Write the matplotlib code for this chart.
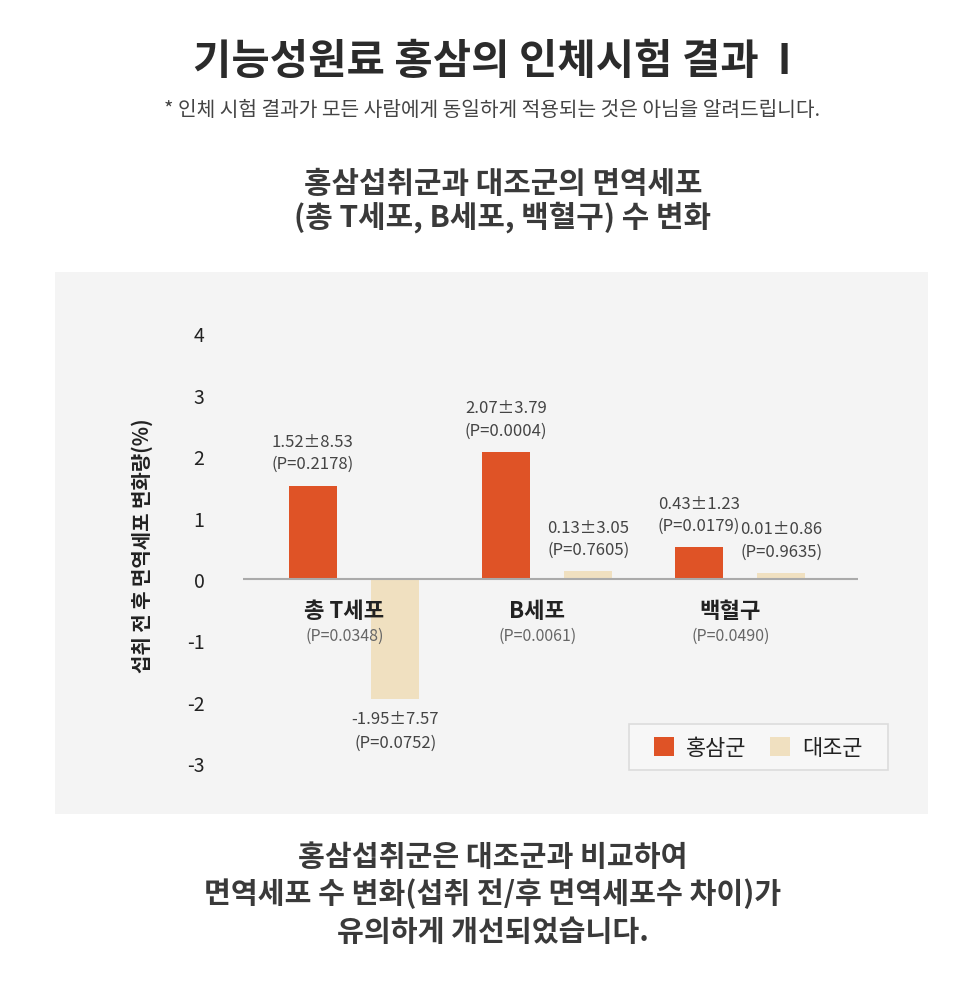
import matplotlib
matplotlib.use('Agg')
import matplotlib.pyplot as plt
from matplotlib.patches import Rectangle

plt.rcParams['font.family'] = ['Noto Sans CJK KR', 'DejaVu Sans']

# data
categories = ['총 T세포', 'B세포', '백혈구']
group_p = ['(P=0.0348)', '(P=0.0061)', '(P=0.0490)']
ginseng_bar = [1.52, 2.07, 0.52]
placebo_bar = [-1.95, 0.13, 0.10]
ginseng_txt = ['1.52±8.53', '2.07±3.79', '0.43±1.23']
ginseng_p = ['(P=0.2178)', '(P=0.0004)', '(P=0.0179)']
placebo_txt = ['-1.95±7.57', '0.13±3.05', '0.01±0.86']
placebo_p = ['(P=0.0752)', '(P=0.7605)', '(P=0.9635)']
yticks = [-3, -2, -1, 0, 1, 2, 3, 4]
legend_labels = ['홍삼군', '대조군']

c_ginseng = '#df5326'
c_placebo = '#f0e0c0'

W, H = 975, 995
def fx(px): return px / W
def fy(py): return 1 - py / H

fig = plt.figure(figsize=(W / 100, H / 100), dpi=100)
fig.patch.set_facecolor('white')

# grey panel behind the chart
fig.patches.append(Rectangle((fx(55), fy(815)), fx(928) - fx(55), fy(273) - fy(815),
                             transform=fig.transFigure, facecolor='#f4f4f4',
                             edgecolor='none', zorder=-2))

# texts above and below
fig.text(fx(492), fy(62), '기능성원료 홍삼의 인체시험 결과  I', ha='center', va='center',
         fontsize=30, fontweight='bold', color='#2b2b2b')
fig.text(fx(492), fy(110), '* 인체 시험 결과가 모든 사람에게 동일하게 적용되는 것은 아님을 알려드립니다.',
         ha='center', va='center', fontsize=14.6, color='#444444')
fig.text(fx(503), fy(184), '홍삼섭취군과 대조군의 면역세포', ha='center', va='center',
         fontsize=21.5, fontweight='bold', color='#3a3a3a')
fig.text(fx(503), fy(217), '(총 T세포, B세포, 백혈구) 수 변화', ha='center', va='center',
         fontsize=21.5, fontweight='bold', color='#3a3a3a')
bottom_lines = ['홍삼섭취군은 대조군과 비교하여',
                '면역세포 수 변화(섭취 전/후 면역세포수 차이)가',
                '유의하게 개선되었습니다.']
for line, py in zip(bottom_lines, [857, 894, 932]):
    fig.text(fx(493), fy(py), line, ha='center', va='center',
             fontsize=21, fontweight='bold', color='#3a3a3a')

# y axis title
fig.text(fx(142), fy(546), '섭취 전 후 면역세포 변화량(%)', rotation=90, ha='center', va='center',
         fontsize=14.4, fontweight='bold', color='#222222')

# axes laid out in pixels: 0 at y=580, 61.4 px per unit
ppu = 61.4
ax = fig.add_axes([fx(210), fy(802), fx(900) - fx(210), fy(302) - fy(802)])
ax.set_facecolor('none')
ax.set_ylim(-(802 - 580) / ppu, (580 - 302) / ppu)
gap = 193.0
c0 = 354.0
ax.set_xlim((210 - c0) / gap, (900 - c0) / gap)
for s in ax.spines.values():
    s.set_visible(False)
ax.set_xticks([])
ax.set_yticks(yticks)
ax.set_yticklabels([str(t) for t in yticks])
ax.tick_params(axis='y', length=0, pad=4, labelsize=14, labelcolor='#222222')

xs = list(range(len(categories)))
off = 41.3 / gap
bw = 48 / gap
b1 = ax.bar([x - off for x in xs], ginseng_bar, width=bw, color=c_ginseng, zorder=2, label=legend_labels[0])
b2 = ax.bar([x + off for x in xs], placebo_bar, width=bw, color=c_placebo, zorder=2, label=legend_labels[1])
ax.hlines(0, (243 - c0) / gap, (858 - c0) / gap, color='#aaaaaa', lw=1.5, zorder=3)

def pt(px):
    return px * 0.72

def value_label(x, h, top, bottom):
    if h >= 0:
        ax.annotate(top, (x, h), xytext=(0, pt(44)), textcoords='offset points',
                    ha='center', va='center', fontsize=12, color='#444444')
        ax.annotate(bottom, (x, h), xytext=(0, pt(22)), textcoords='offset points',
                    ha='center', va='center', fontsize=12, color='#444444')
    else:
        ax.annotate(top, (x, h), xytext=(0, -pt(20)), textcoords='offset points',
                    ha='center', va='center', fontsize=12, color='#444444')
        ax.annotate(bottom, (x, h), xytext=(0, -pt(44)), textcoords='offset points',
                    ha='center', va='center', fontsize=12, color='#444444')

for i, x in enumerate(xs):
    value_label(x - off, ginseng_bar[i], ginseng_txt[i], ginseng_p[i])
    value_label(x + off, placebo_bar[i], placebo_txt[i], placebo_p[i])
    ax.annotate(categories[i], (x - 0.05, 0), xytext=(0, -pt(31)), textcoords='offset points',
                ha='center', va='center', fontsize=16, fontweight='bold', color='#222222', zorder=4)
    ax.annotate(group_p[i], (x - 0.05, 0), xytext=(0, -pt(56)), textcoords='offset points',
                ha='center', va='center', fontsize=11.5, color='#666666', zorder=4)

# legend with a plain frame drawn separately
fig.patches.append(Rectangle((fx(629), fy(771)), fx(888) - fx(629), fy(725) - fy(771),
                             transform=fig.transFigure, facecolor='#f7f7f7',
                             edgecolor='#dcdcdc', lw=1.2, zorder=-1))
leg = ax.legend(handles=[b1, b2], loc='center', bbox_to_anchor=(fx(758), fy(749)),
                bbox_transform=fig.transFigure, ncol=2, frameon=False, fontsize=15.8,
                handlelength=0.92, handleheight=0.92, handletextpad=0.55, columnspacing=1.05,
                borderpad=0.2)
for t in leg.get_texts():
    t.set_color('#222222')

fig.savefig('out.png', dpi=100, facecolor='white')
